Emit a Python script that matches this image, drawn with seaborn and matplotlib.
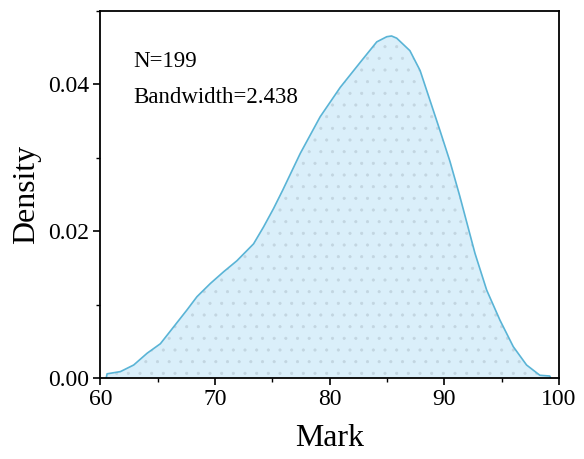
import matplotlib
matplotlib.use("Agg")
import matplotlib.pyplot as plt
import pandas as pd
import seaborn as sns
from matplotlib.ticker import MultipleLocator

# ====================== DATA ======================
mark = [60.5, 60.58, 61.74, 62.9, 64.07, 65.23, 66.39, 67.55, 68.42, 69.59, 70.75,
        71.91, 73.36, 74.23, 75.1, 75.9, 77.43, 79.17, 80.92, 82.66, 84.11, 84.98,
        85.4, 85.85, 87.0, 87.89, 88.76, 89.63, 90.5, 91.37, 92.68, 93.7, 94.86,
        96.02, 97.18, 98.34, 99.2, 99.3]
density = [0.0000, 0.0006, 0.0009, 0.0018, 0.0034, 0.0047, 0.0070, 0.0093, 0.0111,
           0.0129, 0.0145, 0.0160, 0.0183, 0.0206, 0.0231, 0.0256, 0.0306, 0.0356,
           0.0396, 0.0430, 0.0458, 0.0465, 0.0466, 0.0463, 0.0446, 0.0419, 0.0378,
           0.0337, 0.0295, 0.0247, 0.0170, 0.0120, 0.0079, 0.0043, 0.0018, 0.0004,
           0.0003, 0.0000]
n_obs = 199
bandwidth = 2.438

LINE = "#5ab4d6"
FILL = "#daeffa"
DOTS = "#c2d5e0"

# hatch spacing is tied to dpi, so draw at 70 dpi and scale point sizes up
DPI = 70
S = 100 / DPI

sns.set_style("ticks")
plt.rcParams["font.family"] = ["Liberation Serif", "DejaVu Serif"]
plt.rcParams["hatch.linewidth"] = 0.5 * S


def draw():
    df = pd.DataFrame({"Mark": mark, "Density": density})

    fig, ax = plt.subplots(figsize=(584 / DPI, 459 / DPI), dpi=DPI)
    fig.subplots_adjust(left=0.172, right=0.957, top=0.976, bottom=0.176)

    ax.fill_between(df["Mark"], 0, df["Density"], facecolor=FILL, edgecolor=DOTS,
                    hatch=".", linewidth=0)
    sns.lineplot(data=df, x="Mark", y="Density", color=LINE, linewidth=1.2 * S, ax=ax)

    ax.set_xlim(60, 100)
    ax.set_ylim(0, 0.05)
    ax.xaxis.set_major_locator(MultipleLocator(10))
    ax.xaxis.set_minor_locator(MultipleLocator(5))
    ax.yaxis.set_major_locator(MultipleLocator(0.02))
    ax.yaxis.set_minor_locator(MultipleLocator(0.01))
    ax.yaxis.set_major_formatter(lambda v, p: f"{v:.2f}")

    ax.tick_params(which="major", direction="out", length=5 * S, width=1.2 * S,
                   labelsize=17 * S, colors="black", pad=3 * S)
    ax.tick_params(which="minor", direction="out", length=3 * S, width=1.0 * S,
                   colors="black")
    for side in ax.spines.values():
        side.set_visible(True)
        side.set_linewidth(1.3 * S)
        side.set_color("black")

    ax.set_xlabel("Mark", fontsize=23 * S, labelpad=10 * S, color="black")
    ax.set_ylabel("Density", fontsize=23 * S, labelpad=5 * S, color="black")

    ax.text(0.072, 0.847, f"N={n_obs}", transform=ax.transAxes, fontsize=16.5 * S,
            va="baseline", color="black")
    ax.text(0.072, 0.749, f"Bandwidth={bandwidth}", transform=ax.transAxes,
            fontsize=16.5 * S, va="baseline", color="black")

    fig.savefig("out.png", dpi=DPI)


if __name__ == "__main__":
    draw()
